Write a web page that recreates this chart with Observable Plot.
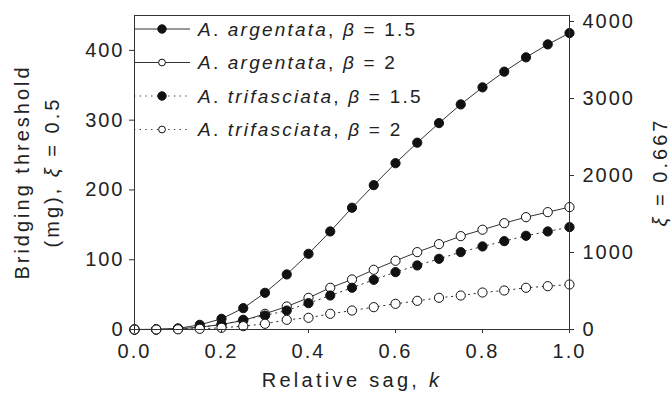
<!DOCTYPE html>
<html><head><meta charset="utf-8">
<script src="https://cdn.jsdelivr.net/npm/d3@7"></script>
<script src="https://cdn.jsdelivr.net/npm/@observablehq/plot@0.6"></script>
<style>
body{margin:0;background:#fff}
#chart svg{font-family:"Liberation Sans",Arial,sans-serif}
#chart svg text{letter-spacing:2px}
</style>
</head><body><div id="chart"></div>
<script>
// Relative sag k
const k = [0,0.05,0.1,0.15,0.2,0.25,0.3,0.35,0.4,0.45,0.5,0.55,0.6,0.65,0.7,0.75,0.8,0.85,0.9,0.95,1.0];
// Bridging threshold (mg), xi = 0.5
const argentata15 = [0,0.2,1.5,6.7,15.3,30.6,52.6,78.9,108.5,140.5,174.5,206.9,238.3,267.7,295.8,322.6,347,369.5,390,408.6,424.8];
const argentata2  = [0,0.1,1,3.3,7.2,12.9,22.5,33,45.4,59.8,71.7,85.6,98.5,110.9,122.3,133.8,143,152.4,161,168.2,175.4];
const trifasciata15 = [0,0.1,0.8,3,7,13.9,20,27.2,37.7,48.7,59.8,71.2,82.2,91.8,101.3,110.9,119,126.6,134.3,140.5,146.7];
const trifasciata2  = [0,0,0.3,1,2.4,4.8,8.2,13.9,16.8,22.5,27.2,32,36.8,41.1,45.4,48.7,53,55.9,59.8,62.1,64.5];

const seriesNames = ["A. argentata, β = 1.5","A. argentata, β = 2","A. trifasciata, β = 1.5","A. trifasciata, β = 2"];
const seriesValues = [argentata15, argentata2, trifasciata15, trifasciata2];
const seriesFilled = [true,false,true,false];
const seriesDotted = [false,false,true,true];

const xTicks = [0,0.2,0.4,0.6,0.8,1.0];
const leftTicks = [0,100,200,300,400];
const rightTicks = [0,1000,2000,3000,4000];
const leftMax = 450, rightMax = 4078;
const ratio = rightMax/leftMax;

const rows = [];
seriesValues.forEach((vals,si)=>vals.forEach((v,i)=>rows.push({s:si,k:k[i],v})));

const lineMarks = seriesValues.map((_,si)=>Plot.line(rows.filter(d=>d.s===si),{
  x:"k",y:"v",stroke:"#333",strokeWidth:1,
  strokeDasharray: seriesDotted[si] ? "1.3,4.4" : null
}));
const dotMarks = seriesValues.map((_,si)=>Plot.dot(rows.filter(d=>d.s===si),{
  x:"k",y:"v",r:4.6,fill: seriesFilled[si] ? "#111" : "#fff",stroke:"#111",strokeWidth:1
}));

const plot = Plot.plot({
  width:672,height:394,
  marginLeft:134,marginRight:103,marginTop:15,marginBottom:65,
  style:{fontSize:"20px",fontFamily:"'Liberation Sans',Arial,sans-serif",color:"#222",background:"#fff"},
  x:{domain:[0,1]},
  y:{domain:[0,leftMax]},
  marks:[
    ...lineMarks,
    ...dotMarks,
    Plot.axisX({ticks:xTicks,tickFormat:d3.format(".1f"),tickSize:4,tickPadding:10,fontSize:20,label:null,stroke:"#333"}),
    Plot.axisY({ticks:leftTicks,tickSize:5,tickPadding:5,fontSize:20,label:null,stroke:"#333"}),
    Plot.axisY({anchor:"right",ticks:rightTicks.map(v=>v/ratio),tickFormat:d=>String(Math.round(d*ratio)),tickSize:4,tickPadding:9,fontSize:20,label:null,stroke:"#333"}),
    Plot.frame({stroke:"#333",strokeWidth:1})
  ]
});
document.getElementById("chart").appendChild(plot);

const svg = d3.select(plot);
const ink = "#222";
// x label
const xl = svg.append("text").attr("x",352).attr("y",387).attr("text-anchor","middle")
  .attr("font-size",20).attr("fill",ink).style("letter-spacing","3.3px");
xl.append("tspan").text("Relative sag, ");
xl.append("tspan").attr("font-style","italic").text("k");
// left y label
svg.append("text").attr("transform","translate(28.5,172) rotate(-90)").attr("text-anchor","middle")
  .attr("font-size",20).attr("fill",ink).style("letter-spacing","3px").text("Bridging threshold");
const yl2 = svg.append("text").attr("transform","translate(59,172) rotate(-90)").attr("text-anchor","middle")
  .attr("font-size",20).attr("fill",ink).style("letter-spacing","3px");
yl2.append("tspan").text("(mg), ");
yl2.append("tspan").attr("font-style","italic").text("ξ");
yl2.append("tspan").text(" = 0.5");
// right y label
const yr = svg.append("text").attr("transform","translate(667,172) rotate(-90)").attr("text-anchor","middle")
  .attr("font-size",20).attr("fill",ink).style("letter-spacing","3px");
yr.append("tspan").attr("font-style","italic").text("ξ");
yr.append("tspan").text(" = 0.667");

// legend
const legY = [29,62.5,96,129.5];
const leg = svg.append("g");
seriesNames.forEach((name,i)=>{
  const y = legY[i];
  leg.append("line").attr("x1",134).attr("x2",190).attr("y1",y).attr("y2",y)
    .attr("stroke","#333").attr("stroke-width",1)
    .attr("stroke-dasharray",seriesDotted[i]?"1.3,4.4":null);
  leg.append("circle").attr("cx",162).attr("cy",y).attr("r",seriesFilled[i]?4.2:3.4)
    .attr("fill",seriesFilled[i]?"#111":"#fff").attr("stroke","#111").attr("stroke-width",1);
  const t = leg.append("text").attr("x",198).attr("y",y).attr("dy","0.35em").attr("text-anchor","start")
    .attr("font-size",19).attr("fill",ink).style("letter-spacing","2.2px");
  const parts = name.match(/^A\. (\S+), β = (.*)$/);
  t.append("tspan").attr("font-style","italic").text("A");
  t.append("tspan").text(". ");
  t.append("tspan").attr("font-style","italic").text(parts[1]);
  t.append("tspan").text(", ");
  t.append("tspan").attr("font-style","italic").text("β");
  t.append("tspan").text(" = " + parts[2]);
});
</script>
</body></html>
